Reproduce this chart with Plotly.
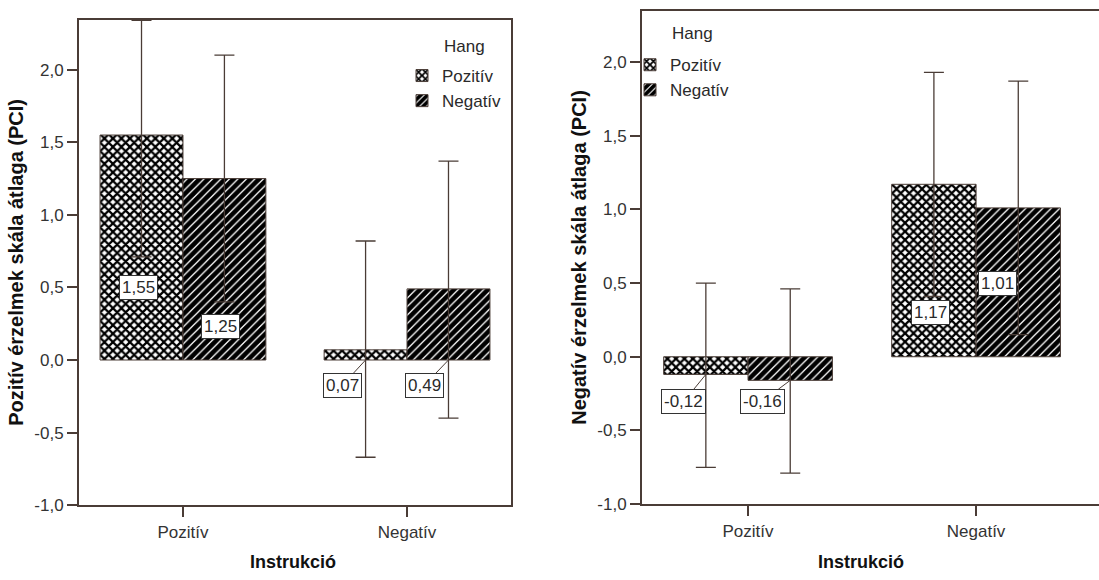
import plotly.graph_objects as go

# ---------------- data ----------------
instr = ["Pozitív", "Negatív"]          # x categories (Instrukció)
hang = ["Pozitív", "Negatív"]           # series (Hang)

# left panel: PCI
pci_poz = [1.55, 0.07]
pci_poz_hi = [2.34, 0.82]
pci_poz_lo = [0.71, -0.67]
pci_neg = [1.25, 0.49]
pci_neg_hi = [2.10, 1.37]
pci_neg_lo = [0.40, -0.40]

# right panel: NCI
nci_poz = [-0.12, 1.17]
nci_poz_hi = [0.50, 1.93]
nci_poz_lo = [-0.75, 0.41]
nci_neg = [-0.16, 1.01]
nci_neg_hi = [0.46, 1.87]
nci_neg_lo = [-0.79, 0.15]

y_ticks = [-1.0, -0.5, 0.0, 0.5, 1.0, 1.5, 2.0]
y_ticktext = [f"{v:.1f}".replace(".", ",") for v in y_ticks]

# ---------------- style ----------------
LINE = "#4a3c36"
TXT = "#2a2a2a"
FONT = "Liberation Sans, Arial, sans-serif"
FS = 17
BAR_W = 0.37
patterns = [dict(shape="x", fgcolor="#000000", bgcolor="white", size=6, solidity=0.6, fgopacity=1),
            dict(shape="/", fgcolor="#000000", bgcolor="white", size=6, solidity=0.78, fgopacity=1)]

# label placement (layout only): (mode, a, b)
#  "in": label inside bar at axis value a, x shift b px
#  "out": label below bar, arrow from bar end, offset (a, b) px
left_labels = [[("in", 0.50, -3), ("out", -23, 25)],
               [("in", 0.23, -4), ("out", -24, 25)]]
right_labels = [[("out", -22, 27), ("in", 0.30, -3)],
                [("out", -28, 21), ("in", 0.50, -21)]]

fig = go.Figure()

def add_panel(means, his, los, xa, ya, legend, labels):
    for s in range(2):
        plus = [h - m for h, m in zip(his[s], means[s])]
        minus = [m - l for m, l in zip(means[s], los[s])]
        fig.add_trace(go.Bar(
            x=instr, y=means[s], name=hang[s], xaxis=xa, yaxis=ya, legend=legend,
            marker=dict(color="white", pattern=patterns[s], line=dict(color=LINE, width=1)),
            error_y=dict(type="data", array=plus, arrayminus=minus, visible=True,
                         color=LINE, thickness=1.3, width=10),
        ))
        for c in range(2):
            xi = c + (s - 0.5) * BAR_W
            v = means[s][c]
            txt = f"{v:.2f}".replace(".", ",")
            mode, a, b = labels[s][c]
            common = dict(xref=xa, yref=ya, text=txt, bgcolor="white", bordercolor="#333333",
                          borderwidth=1, borderpad=2, font=dict(size=FS, color=TXT, family=FONT))
            if mode == "in":
                fig.add_annotation(x=xi, y=a, xshift=b, showarrow=False, **common)
            else:
                fig.add_annotation(x=xi, y=min(v, 0), ax=a, ay=b, showarrow=True,
                                   arrowhead=0, arrowwidth=1, arrowcolor=LINE, **common)

add_panel([pci_poz, pci_neg], [pci_poz_hi, pci_neg_hi], [pci_poz_lo, pci_neg_lo],
          "x", "y", "legend", left_labels)
add_panel([nci_poz, nci_neg], [nci_poz_hi, nci_neg_hi], [nci_poz_lo, nci_neg_lo],
          "x2", "y2", "legend2", right_labels)

axis_common = dict(showgrid=False, zeroline=False, showline=True, linecolor=LINE, linewidth=2,
                   ticks="outside", ticklen=10, tickwidth=2, tickcolor=LINE,
                   tickfont=dict(size=FS, color="#333333", family=FONT))
title_font = dict(size=18, color="#111111", family=FONT)
ytitle_font = dict(size=20, color="#111111", family=FONT)

legend_common = dict(font=dict(size=FS, color=TXT, family=FONT), bgcolor="rgba(0,0,0,0)",
                     tracegroupgap=0, itemwidth=30, xanchor="left", yanchor="top")

fig.update_layout(
    width=1099, height=580, margin=dict(l=0, r=0, t=0, b=0),
    paper_bgcolor="white", plot_bgcolor="white",
    separators=", ", barmode="group", bargap=1 - 2 * BAR_W, bargroupgap=0,
    font=dict(family=FONT, color=TXT),
    xaxis=dict(domain=[79 / 1099, 511 / 1099], range=[-0.464, 1.464], mirror=True,
               **axis_common),
    yaxis=dict(domain=[1 - 514 / 580, 1 - 20 / 580], range=[-1.0, 2.345], mirror=True,
               tickvals=y_ticks, ticktext=y_ticktext,
               title=dict(text="<b>Pozitív érzelmek skála átlaga (PCI)</b>", font=ytitle_font, standoff=5),
               **axis_common),
    xaxis2=dict(domain=[642 / 1099, 1.0], range=[-0.465, 1.539], mirror=True, anchor="y2",
                **axis_common),
    yaxis2=dict(domain=[1 - 513 / 580, 1 - 11 / 580], range=[-1.0, 2.347], anchor="x2",
                tickvals=y_ticks, ticktext=y_ticktext,
                title=dict(text="<b>Negatív érzelmek skála átlaga (PCI)</b>", font=ytitle_font, standoff=5),
                **axis_common),
    legend=dict(x=402 / 1099, y=1 - 59 / 580, **legend_common),
    legend2=dict(x=630 / 1099, y=1 - 48 / 580, **legend_common),
)

# legend titles ("Hang") and x-axis titles
for x_px, y_px, txt in [(442, 47, "Hang"), (670, 34, "Hang")]:
    fig.add_annotation(xref="paper", yref="paper", x=x_px / 1099, y=1 - y_px / 580,
                       xanchor="left", yanchor="middle", text=txt, showarrow=False,
                       font=dict(size=FS, color=TXT, family=FONT))
for x_px in [293, 861]:
    fig.add_annotation(xref="paper", yref="paper", x=x_px / 1099, y=1 - 572 / 580,
                       xanchor="center", yanchor="middle",
                       text="<b>Instrukció</b>", showarrow=False, font=title_font)

fig.write_html("out.html")
